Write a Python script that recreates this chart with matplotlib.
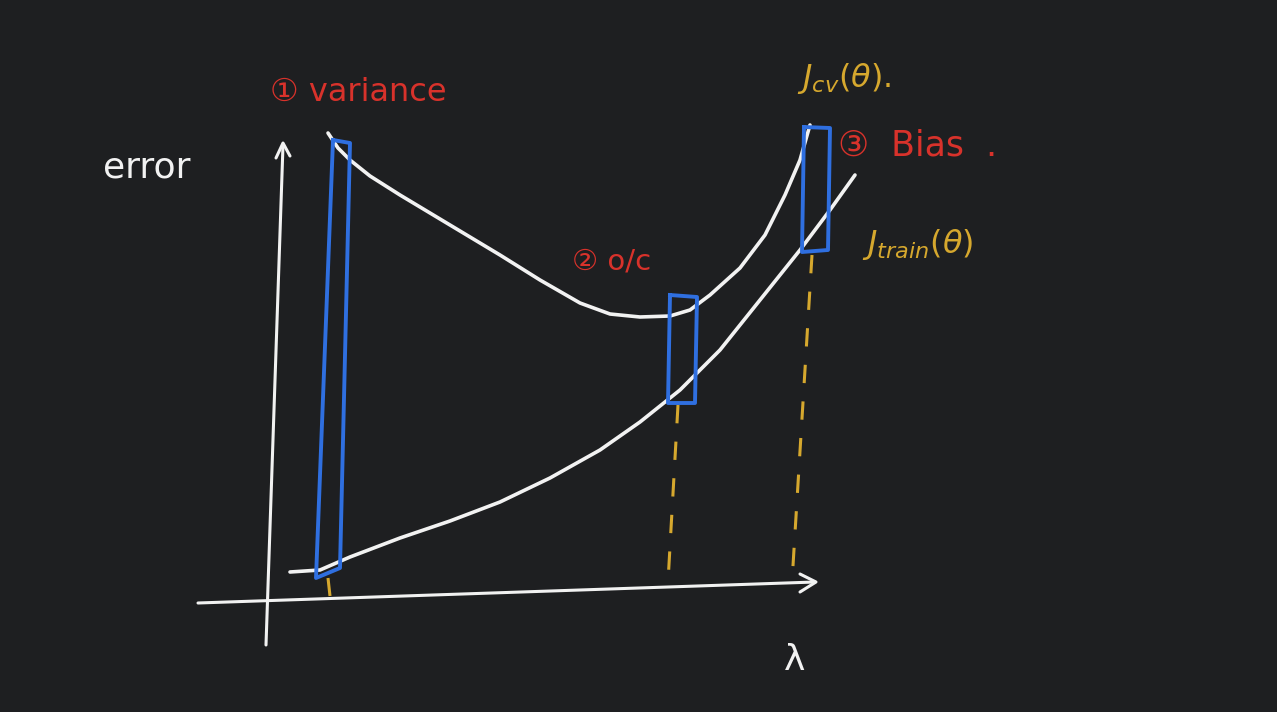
import matplotlib
matplotlib.use("Agg")
import matplotlib.pyplot as plt

# ---- data (pixel-space sketch coordinates) ----
cv_x = [328, 338, 350, 370, 400, 450, 500, 540, 580, 610, 640, 670, 690, 710, 740, 765, 785, 800, 810]
cv_y = [133, 148, 160, 176, 195, 225, 255, 280, 303, 314, 317, 316, 310, 295, 268, 235, 195, 160, 125]
train_x = [290, 320, 350, 400, 450, 500, 550, 600, 640, 680, 720, 760, 800, 830, 855]
train_y = [572, 570, 557, 538, 521, 502, 478, 450, 422, 390, 350, 300, 250, 210, 175]

box_labels = ["variance", "ok", "bias"]
box_left = [[(333, 140), (316, 578)], [(670, 295), (668, 403)], [(804, 127), (802, 252)]]
box_right = [[(350, 143), (340, 568)], [(697, 297), (695, 403)], [(830, 128), (828, 250)]]
dash_lines = [[(328, 578), (330, 596)], [(678, 405), (668, 582)], [(812, 255), (792, 582)]]

BG = "#1e1f21"
WHITE = "#f2f2f2"
BLUE = "#2f6fe0"
RED = "#d8322b"
YEL = "#d6a82e"

fig = plt.figure(figsize=(12.77, 7.12), dpi=100, facecolor=BG)
ax = fig.add_axes([0, 0, 1, 1])
ax.set_facecolor(BG)
ax.set_xlim(0, 1277)
ax.set_ylim(712, 0)
ax.axis("off")

# axes of the sketch
ax.plot([266, 283], [645, 145], color=WHITE, lw=2.2, solid_capstyle="round")
ax.plot([276, 283, 290], [158, 143, 156], color=WHITE, lw=2.2, solid_capstyle="round")
ax.plot([198, 815], [603, 582], color=WHITE, lw=2.2, solid_capstyle="round")
ax.plot([800, 816, 800], [574, 582, 592], color=WHITE, lw=2.2, solid_capstyle="round")

# curves
ax.plot(cv_x, cv_y, color=WHITE, lw=2.6, solid_capstyle="round", solid_joinstyle="round")
ax.plot(train_x, train_y, color=WHITE, lw=2.6, solid_capstyle="round", solid_joinstyle="round")

# dashed yellow guide lines
for (x0, y0), (x1, y1) in dash_lines:
    ax.plot([x0, x1], [y0, y1], color=YEL, lw=2.2, dashes=(6, 6))

# blue boxes
for (l0, l1), (r0, r1) in zip(box_left, box_right):
    xs = [l0[0], r0[0], r1[0], l1[0], l0[0]]
    ys = [l0[1], r0[1], r1[1], l1[1], l0[1]]
    ax.plot(xs, ys, color=BLUE, lw=2.8, solid_joinstyle="round")

# labels
fs = 23
ax.text(270, 92, "① variance", color=RED, fontsize=fs, va="center", ha="left")
ax.text(572, 262, "② o/c", color=RED, fontsize=fs - 2, va="center", ha="left")
ax.text(838, 145, "③  Bias  .", color=RED, fontsize=fs + 2, va="center", ha="left")
ax.text(797, 78, r"$J_{cv}(\theta)$.", color=YEL, fontsize=fs, va="center", ha="left")
ax.text(862, 245, r"$J_{train}(\theta)$", color=YEL, fontsize=fs, va="center", ha="left")
ax.text(103, 168, "error", color=WHITE, fontsize=fs + 3, va="center", ha="left")
ax.text(795, 660, "λ", color=WHITE, fontsize=fs + 3, va="center", ha="center")

fig.savefig("out.png", dpi=100, facecolor=BG)
